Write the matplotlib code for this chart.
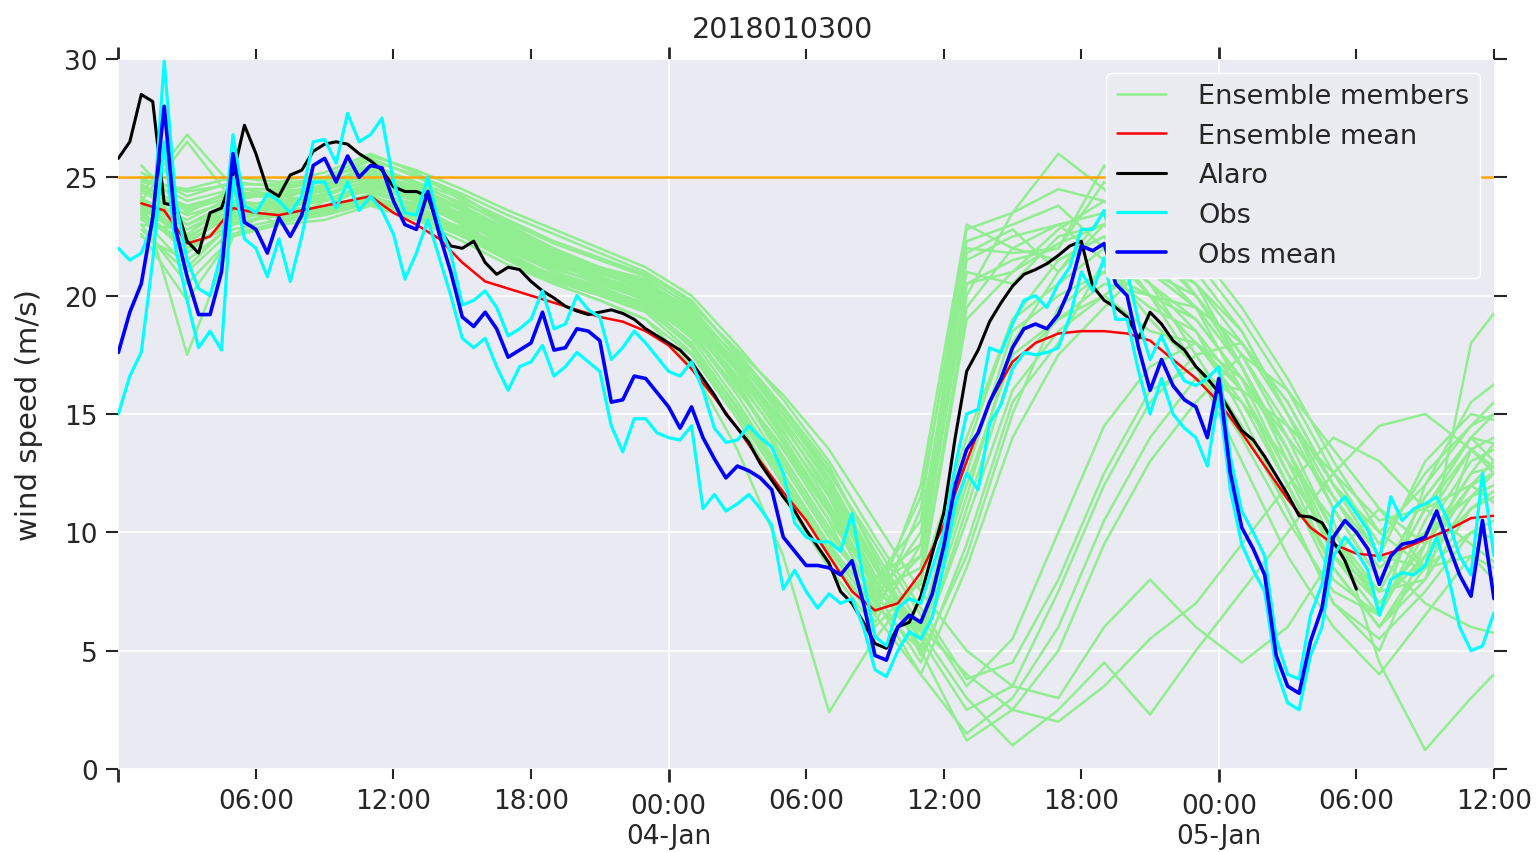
import numpy as np
import matplotlib
matplotlib.use('Agg')
import matplotlib.pyplot as plt

# Ensemble wind speed forecast vs obs, run 2018010300
title = '2018010300'
threshold = 25

# hours since 2018-01-03 00:00
member_hours = list(range(1, 62, 2))
mean_hours = list(range(1, 61))
alaro_hours = list(np.arange(0, 54.5, 0.5))
obs_hours = list(np.arange(0, 60.5, 0.5))

xtick_major = [0, 24, 48]
xlabels_major = ['', '00:00\n04-Jan', '00:00\n05-Jan']
xtick_minor = [6, 12, 18, 30, 36, 42, 54, 60]
xlabels_minor = ['06:00', '12:00', '18:00', '06:00', '12:00', '18:00', '06:00', '12:00']

# ensemble members, 2-hourly (t = 1, 3, ..., 61)
members = [
    [24.5, 23.0, 24.0, 23.8, 24.5, 25.0, 24.2, 23.2, 22.0, 21.2, 20.5, 19.8, 18.2, 15.5, 12.5, 9.5, 7.0, 9.0, 21.5, 22.5, 23.0, 23.5, 21.0, 19.5, 16.0, 12.0, 8.5, 6.0, 9.0, 12.0, 14.0],
    [23.8, 22.5, 23.5, 24.2, 24.0, 24.5, 23.8, 22.8, 21.8, 20.8, 20.2, 19.5, 17.8, 15.0, 12.0, 9.0, 6.5, 11.0, 22.8, 23.5, 24.5, 24.0, 22.0, 20.0, 17.5, 14.0, 10.0, 7.5, 8.0, 11.0, 12.5],
    [25.0, 24.0, 24.5, 24.5, 25.0, 25.5, 24.8, 23.8, 22.8, 21.8, 21.0, 20.3, 18.8, 16.2, 13.0, 10.0, 7.5, 8.5, 20.5, 21.5, 22.0, 25.5, 23.0, 21.0, 18.5, 15.0, 11.0, 8.0, 11.5, 14.0, 13.5],
    [22.5, 21.5, 23.0, 23.5, 23.5, 24.0, 23.5, 22.5, 21.5, 20.5, 19.8, 19.0, 17.5, 14.8, 11.5, 8.5, 6.0, 8.0, 19.5, 22.0, 21.5, 22.5, 20.5, 18.5, 15.0, 11.0, 7.0, 5.5, 7.5, 10.0, 11.0],
    [24.0, 26.5, 24.0, 23.0, 24.0, 24.8, 24.0, 23.0, 22.3, 21.5, 20.8, 20.0, 18.5, 16.0, 13.5, 10.5, 8.0, 10.5, 21.0, 20.5, 22.5, 23.0, 21.5, 20.5, 18.0, 15.5, 12.0, 9.0, 13.0, 15.0, 14.5],
    [23.5, 22.0, 23.2, 23.6, 23.8, 24.6, 24.0, 23.5, 22.5, 21.5, 20.6, 20.0, 18.6, 16.5, 13.8, 10.8, 7.8, 9.0, 20.0, 23.5, 26.0, 24.5, 22.5, 21.5, 19.0, 16.0, 12.5, 9.5, 12.5, 14.5, 16.5],
    [24.2, 17.5, 22.5, 24.0, 24.2, 25.2, 24.4, 23.0, 21.9, 21.0, 20.4, 19.6, 18.0, 15.2, 12.2, 9.2, 6.8, 12.0, 23.0, 22.0, 23.0, 21.5, 19.0, 17.0, 14.0, 10.5, 7.5, 6.5, 10.5, 13.5, 12.0],
    [25.5, 23.5, 24.5, 24.5, 24.8, 25.8, 25.0, 24.2, 23.0, 22.0, 21.2, 20.5, 19.0, 16.8, 14.0, 11.0, 8.0, 9.5, 20.5, 21.0, 22.8, 24.0, 22.5, 20.0, 17.0, 13.5, 9.5, 7.0, 9.5, 12.5, 15.0],
    [23.0, 22.8, 23.8, 23.3, 23.6, 24.2, 23.6, 22.6, 21.6, 20.6, 20.0, 19.3, 17.6, 15.0, 12.0, 9.0, 6.2, 9.5, 21.8, 22.8, 21.0, 23.0, 20.5, 19.0, 16.5, 12.5, 8.5, 6.0, 8.5, 11.5, 12.5],
    [24.8, 24.5, 25.0, 24.8, 25.2, 26.0, 25.2, 24.0, 22.9, 21.9, 21.0, 20.2, 18.7, 16.3, 13.2, 10.2, 7.2, 10.0, 22.3, 23.0, 23.8, 22.0, 20.0, 18.0, 15.5, 12.0, 8.0, 6.5, 10.0, 13.0, 14.0],
    [23.6, 21.8, 23.3, 23.9, 24.1, 24.4, 23.7, 22.7, 21.7, 20.7, 20.1, 19.4, 17.9, 15.3, 12.4, 9.4, 6.6, 7.8, 19.0, 21.0, 22.2, 23.0, 21.0, 19.5, 17.0, 13.5, 9.0, 7.5, 11.0, 12.0, 10.5],
    [24.1, 23.2, 24.2, 24.3, 24.4, 25.3, 24.5, 23.4, 22.4, 21.4, 20.6, 19.9, 18.4, 15.8, 12.8, 9.8, 7.4, 11.5, 22.0, 21.8, 22.0, 24.8, 23.5, 22.0, 19.5, 16.5, 13.0, 10.0, 12.0, 15.5, 17.0],
    [24.0, 22.8, 23.6, 23.7, 24.0, 24.8, 24.1, 23.3, 22.4, 21.6, 21.0, 20.3, 19.0, 16.8, 14.0, 11.0, 7.0, 5.0, 11.0, 17.0, 19.0, 20.5, 20.0, 19.0, 16.5, 13.5, 10.0, 7.0, 9.0, 12.0, 13.0],
    [23.2, 22.3, 23.4, 23.5, 23.7, 24.3, 23.9, 23.1, 22.2, 21.3, 20.7, 20.0, 18.8, 16.6, 14.2, 11.5, 7.5, 4.5, 9.5, 15.5, 18.0, 21.5, 21.0, 20.0, 17.5, 14.5, 11.0, 8.0, 11.5, 14.0, 12.0],
    [24.6, 23.8, 24.3, 24.1, 24.6, 25.4, 24.7, 23.9, 23.1, 22.2, 21.5, 20.8, 19.5, 17.3, 14.8, 12.0, 8.5, 5.5, 12.5, 18.5, 20.0, 21.0, 19.5, 18.5, 16.0, 12.0, 8.5, 6.0, 8.0, 13.5, 11.5],
    [22.8, 21.0, 22.8, 23.2, 23.5, 24.0, 23.4, 22.6, 21.6, 20.9, 20.3, 19.7, 18.4, 16.0, 13.6, 10.8, 7.2, 4.0, 8.5, 14.0, 17.5, 19.5, 21.5, 20.5, 18.5, 15.0, 11.5, 8.5, 10.0, 11.5, 13.5],
    [24.4, 23.4, 24.0, 24.4, 24.5, 25.1, 24.6, 23.6, 22.7, 21.8, 21.2, 20.6, 19.4, 17.0, 14.5, 11.8, 8.2, 6.0, 13.5, 19.0, 20.5, 22.0, 20.5, 17.5, 14.5, 11.0, 7.0, 5.0, 9.5, 12.5, 13.0],
    [23.9, 22.6, 23.9, 23.9, 24.2, 24.9, 24.3, 23.4, 22.5, 21.6, 20.9, 20.4, 19.2, 16.9, 14.3, 11.2, 7.8, 5.2, 10.5, 16.0, 18.5, 20.0, 21.5, 19.5, 17.0, 13.0, 9.0, 6.5, 12.0, 14.5, 15.5],
    [25.2, 24.2, 24.8, 24.6, 24.9, 25.7, 25.1, 24.3, 23.4, 22.6, 21.8, 21.0, 19.8, 17.5, 15.0, 12.3, 8.8, 4.8, 9.0, 15.0, 19.5, 21.0, 20.0, 19.5, 18.0, 15.5, 12.0, 9.0, 8.5, 10.0, 9.5],
    [23.4, 22.0, 23.0, 23.4, 23.6, 24.1, 23.5, 22.9, 22.0, 21.2, 20.5, 19.9, 18.6, 16.4, 13.8, 11.0, 7.6, 5.8, 12.0, 17.5, 19.0, 20.0, 18.5, 18.0, 16.0, 12.5, 9.5, 7.5, 11.0, 13.5, 14.5],
    [24.3, 26.8, 24.6, 24.2, 24.5, 25.0, 24.4, 23.6, 22.6, 21.7, 21.1, 20.5, 19.3, 17.1, 14.6, 11.6, 8.0, 5.5, 11.5, 18.0, 21.0, 23.5, 22.0, 20.5, 17.0, 13.0, 9.0, 7.0, 9.0, 11.0, 12.0],
    [23.7, 22.4, 23.7, 23.8, 24.0, 24.7, 24.0, 23.2, 22.3, 21.4, 20.8, 20.2, 19.1, 17.2, 15.0, 12.5, 9.5, 6.5, 3.5, 5.5, 10.0, 14.5, 17.0, 18.0, 16.5, 14.0, 11.5, 9.0, 7.0, 6.0, 5.5],
    [24.7, 23.7, 24.4, 24.2, 24.7, 25.5, 24.8, 24.1, 23.2, 22.3, 21.6, 20.9, 19.7, 17.6, 15.3, 12.8, 9.0, 5.5, 2.5, 3.5, 7.5, 12.0, 15.5, 17.5, 18.0, 15.0, 12.0, 10.0, 8.5, 9.0, 8.0],
    [23.3, 21.2, 23.1, 23.4, 23.7, 24.2, 23.6, 22.8, 21.9, 21.1, 20.6, 20.0, 18.9, 16.9, 14.7, 12.2, 8.7, 5.0, 1.2, 2.5, 5.0, 9.5, 13.0, 15.5, 17.5, 16.0, 13.5, 11.0, 9.5, 12.0, 13.0],
    [24.9, 24.4, 24.7, 24.7, 25.0, 25.9, 25.3, 24.5, 23.6, 22.8, 22.0, 21.2, 20.0, 17.9, 15.6, 13.0, 9.8, 6.8, 3.8, 4.5, 8.0, 12.5, 16.0, 17.0, 15.5, 13.0, 10.5, 4.5, 0.8, 3.0, 5.0],
    [22.6, 19.8, 22.6, 23.1, 23.4, 23.9, 23.3, 22.5, 21.5, 20.8, 20.2, 19.6, 18.3, 16.1, 13.5, 10.5, 6.5, 4.0, 1.5, 3.0, 6.0, 10.5, 14.0, 16.5, 16.0, 14.5, 12.5, 10.5, 11.0, 14.0, 16.0],
    [24.0, 23.0, 23.8, 24.0, 24.3, 24.9, 24.2, 23.4, 22.5, 21.7, 21.0, 20.4, 19.3, 17.4, 15.2, 12.6, 9.2, 6.0, 4.0, 2.5, 2.0, 3.5, 5.5, 7.0, 9.5, 12.0, 14.0, 13.0, 11.0, 9.5, 8.0],
    [23.5, 22.2, 23.5, 23.7, 24.0, 24.6, 24.0, 23.1, 22.1, 21.3, 20.7, 20.1, 18.9, 16.8, 14.5, 11.8, 8.5, 5.8, 3.0, 1.0, 2.5, 4.5, 2.3, 5.0, 7.5, 10.0, 12.5, 14.5, 15.0, 13.5, 12.0],
    [24.5, 23.6, 24.2, 24.4, 24.6, 25.2, 24.6, 23.7, 22.8, 21.9, 21.2, 20.7, 19.6, 17.7, 15.8, 13.5, 10.5, 7.5, 5.0, 3.5, 3.0, 6.0, 8.0, 6.0, 4.5, 6.0, 9.0, 11.0, 8.5, 18.0, 20.5],
    [23.0, 20.5, 22.5, 23.0, 23.2, 23.8, 23.2, 22.3, 21.3, 20.5, 19.8, 19.0, 17.0, 13.5, 9.0, 2.4, 5.5, 8.0, 14.0, 19.0, 21.5, 22.5, 20.0, 17.0, 13.0, 9.0, 6.0, 4.0, 6.5, 9.0, 7.0],
]

# ensemble mean, hourly (t = 1 .. 60)
ens_mean = [23.9, 23.6, 22.2, 22.5, 23.7, 23.5, 23.4, 23.6, 23.8, 24.0,
            24.2, 23.5, 23.0, 22.4, 21.4, 20.6, 20.3, 20.0, 19.7, 19.4,
            19.1, 18.9, 18.5, 17.9, 16.9, 15.7, 14.4, 13.0, 11.7, 10.5,
            9.0, 7.5, 6.7, 7.0, 8.3, 10.3, 13.0, 15.5, 17.2, 18.0,
            18.4, 18.5, 18.5, 18.4, 18.1, 17.3, 16.5, 15.5, 14.2, 12.8,
            11.4, 10.2, 9.5, 9.1, 9.0, 9.3, 9.7, 10.1, 10.6, 10.7]

# Alaro run, half-hourly (t = 0 .. 54)
alaro = [25.8, 26.5, 28.5, 28.2, 23.9, 23.8, 22.3, 21.8, 23.5, 23.7,
         25.1, 27.2, 26.0, 24.5, 24.2, 25.1, 25.3, 26.1, 26.4, 26.5,
         26.4, 26.0, 25.7, 25.3, 24.6, 24.4, 24.4, 24.2, 22.8, 22.1,
         22.0, 22.3, 21.4, 20.9, 21.2, 21.1, 20.6, 20.2, 19.9, 19.55,
         19.35, 19.2, 19.3, 19.4, 19.25, 19.0, 18.6, 18.3, 18.0, 17.7,
         17.2, 16.5, 15.8, 15.0, 14.4, 13.8, 12.9, 12.2, 11.5, 10.9,
         10.1, 9.4, 8.7, 7.5, 7.0, 6.2, 5.3, 5.1, 6.0, 6.2,
         7.3, 9.1, 10.8, 14.0, 16.8, 17.7, 18.9, 19.7, 20.4, 20.9,
         21.1, 21.35, 21.7, 22.1, 22.3, 20.4, 19.8, 19.5, 19.1, 18.2,
         19.3, 18.8, 18.1, 17.7, 17.0, 16.5, 15.9, 15.1, 14.3, 13.9,
         13.2, 12.4, 11.6, 10.7, 10.65, 10.4, 9.6, 8.8, 7.6]

# observations, half-hourly (t = 0 .. 60)
obs_a = [22.0, 21.5, 21.8, 23.0, 29.9, 24.0, 21.5, 20.3, 20.0, 21.8,
         26.8, 23.8, 23.5, 24.3, 24.0, 23.5, 24.2, 26.5, 26.6, 25.6,
         27.7, 26.5, 26.8, 27.5, 24.8, 23.5, 23.4, 25.0, 23.0, 21.8,
         19.6, 19.8, 20.2, 19.5, 18.3, 18.6, 19.0, 20.2, 18.6, 18.8,
         20.0, 19.4, 19.1, 17.3, 17.8, 18.5, 18.0, 17.4, 16.8, 16.6,
         17.2, 16.0, 14.4, 13.8, 13.9, 14.5, 14.0, 13.6, 12.5, 10.4,
         9.8, 9.6, 9.6, 9.2, 10.8, 8.0, 5.6, 5.2, 6.8, 7.2,
         7.0, 8.5, 10.0, 12.8, 15.0, 15.2, 17.8, 17.6, 18.8, 19.8,
         20.0, 19.5, 20.5, 21.2, 22.8, 22.8, 23.6, 21.5, 21.0, 18.9,
         17.3, 18.3, 17.2, 16.4, 16.2, 16.5, 17.0, 13.2, 10.9, 10.0,
         9.0, 5.5, 4.0, 3.8, 6.5, 7.8, 11.0, 11.5, 10.8, 10.1,
         8.8, 11.5, 10.5, 11.0, 11.2, 11.5, 10.5, 9.0, 8.2, 12.5,
         9.0]
obs_b = [15.0, 16.6, 17.6, 21.5, 26.5, 22.0, 19.8, 17.8, 18.5, 17.7,
         25.0, 22.4, 22.0, 20.8, 22.4, 20.6, 22.5, 24.8, 24.8, 23.7,
         24.8, 23.6, 24.2, 23.6, 22.6, 20.7, 21.8, 23.2, 21.6, 20.0,
         18.2, 17.8, 18.2, 17.0, 16.0, 17.0, 17.2, 17.9, 16.6, 17.0,
         17.6, 17.2, 16.8, 14.5, 13.4, 14.8, 14.8, 14.2, 14.0, 13.9,
         14.5, 11.0, 11.6, 10.9, 11.2, 11.6, 11.0, 10.3, 7.6, 8.4,
         7.5, 6.8, 7.4, 7.0, 7.2, 6.0, 4.2, 3.9, 5.0, 5.8,
         5.5, 6.4, 8.6, 11.2, 12.5, 11.8, 14.6, 15.4, 16.9, 17.6,
         17.5, 17.6, 17.8, 19.1, 21.0, 20.2, 21.6, 19.0, 19.0, 16.8,
         15.0, 16.5, 15.0, 14.4, 14.0, 12.8, 15.8, 11.8, 9.5, 8.4,
         7.5, 4.2, 2.8, 2.5, 4.8, 6.0, 9.0, 9.8, 9.2, 8.4,
         6.5, 8.0, 8.3, 8.2, 8.6, 9.8, 8.2, 6.0, 5.0, 5.2,
         6.6]
obs_mean = [17.6, 19.3, 20.5, 23.3, 28.0, 22.8, 20.8, 19.2, 19.2, 21.0,
            26.0, 23.1, 22.8, 21.8, 23.3, 22.5, 23.4, 25.5, 25.8, 24.8,
            25.9, 25.0, 25.5, 25.4, 24.0, 23.0, 22.8, 24.4, 22.6, 21.0,
            19.1, 18.7, 19.3, 18.6, 17.4, 17.7, 18.0, 19.3, 17.7, 17.8,
            18.6, 18.5, 18.1, 15.5, 15.6, 16.6, 16.5, 15.9, 15.3, 14.4,
            15.3, 14.0, 13.1, 12.3, 12.8, 12.6, 12.3, 11.8, 9.8, 9.2,
            8.6, 8.6, 8.5, 8.2, 8.8, 7.0, 4.8, 4.6, 6.0, 6.5,
            6.2, 7.4, 9.4, 12.0, 13.5, 14.2, 15.5, 16.5, 17.8, 18.6,
            18.8, 18.6, 19.2, 20.3, 22.1, 21.9, 22.2, 20.5, 20.0, 17.8,
            16.0, 17.3, 16.2, 15.6, 15.3, 14.0, 16.5, 12.5, 10.2, 9.3,
            8.2, 4.8, 3.5, 3.2, 5.4, 6.8, 9.8, 10.5, 10.0, 9.3,
            7.8, 9.0, 9.5, 9.6, 9.8, 10.9, 9.5, 8.2, 7.3, 10.5,
            7.2]

plt.style.use('seaborn-v0_8-darkgrid')
plt.rcParams['font.family'] = ['DejaVu Sans']

fig = plt.figure(figsize=(15.37, 8.53), dpi=100)
ax = fig.add_axes([0.077, 0.0973, 0.895, 0.8324])

for i, m in enumerate(members):
    ax.plot(member_hours, m, color='lightgreen', lw=1.8,
            label='Ensemble members' if i == 0 else None)
ax.axhline(threshold, color='orange', lw=1.8)
ax.plot(mean_hours, ens_mean, color='red', lw=1.8, label='Ensemble mean')
ax.plot(alaro_hours, alaro, color='black', lw=2.2, label='Alaro')
ax.plot(obs_hours, obs_a, color='cyan', lw=2.3, label='Obs')
ax.plot(obs_hours, obs_b, color='cyan', lw=2.3)
ax.plot(obs_hours, obs_mean, color='blue', lw=2.6, label='Obs mean')

ax.set_xlim(0, 60)
ax.set_ylim(0, 30)
ax.set_yticks(range(0, 31, 5))
ax.set_xticks(xtick_major)
ax.set_xticklabels(xlabels_major)
ax.set_xticks(xtick_minor, minor=True)
ax.set_xticklabels(xlabels_minor, minor=True)

ax.tick_params(axis='both', which='both', direction='out', top=True, right=True,
               colors='#262626', labelsize=19)
ax.tick_params(axis='x', which='major', length=9, width=2, pad=8.5)
ax.tick_params(axis='x', which='minor', length=7, width=1.5, pad=7)
ax.tick_params(axis='y', which='major', length=9, width=1.5, pad=6)
ax.grid(True, which='major', color='white', lw=1.2)
ax.grid(False, which='minor')

ax.set_ylabel('wind speed (m/s)', fontsize=21, color='#262626')
ax.yaxis.set_label_coords(-0.055, 0.5)
ax.set_title(title, fontsize=20.5, color='#262626', pad=16, x=0.483)

leg = ax.legend(loc='upper right', fontsize=19.5, frameon=True, framealpha=1,
                facecolor='#EBEBF2', edgecolor='white', handlelength=1.8,
                handletextpad=1.2)

plt.savefig('out.png', dpi=100)
